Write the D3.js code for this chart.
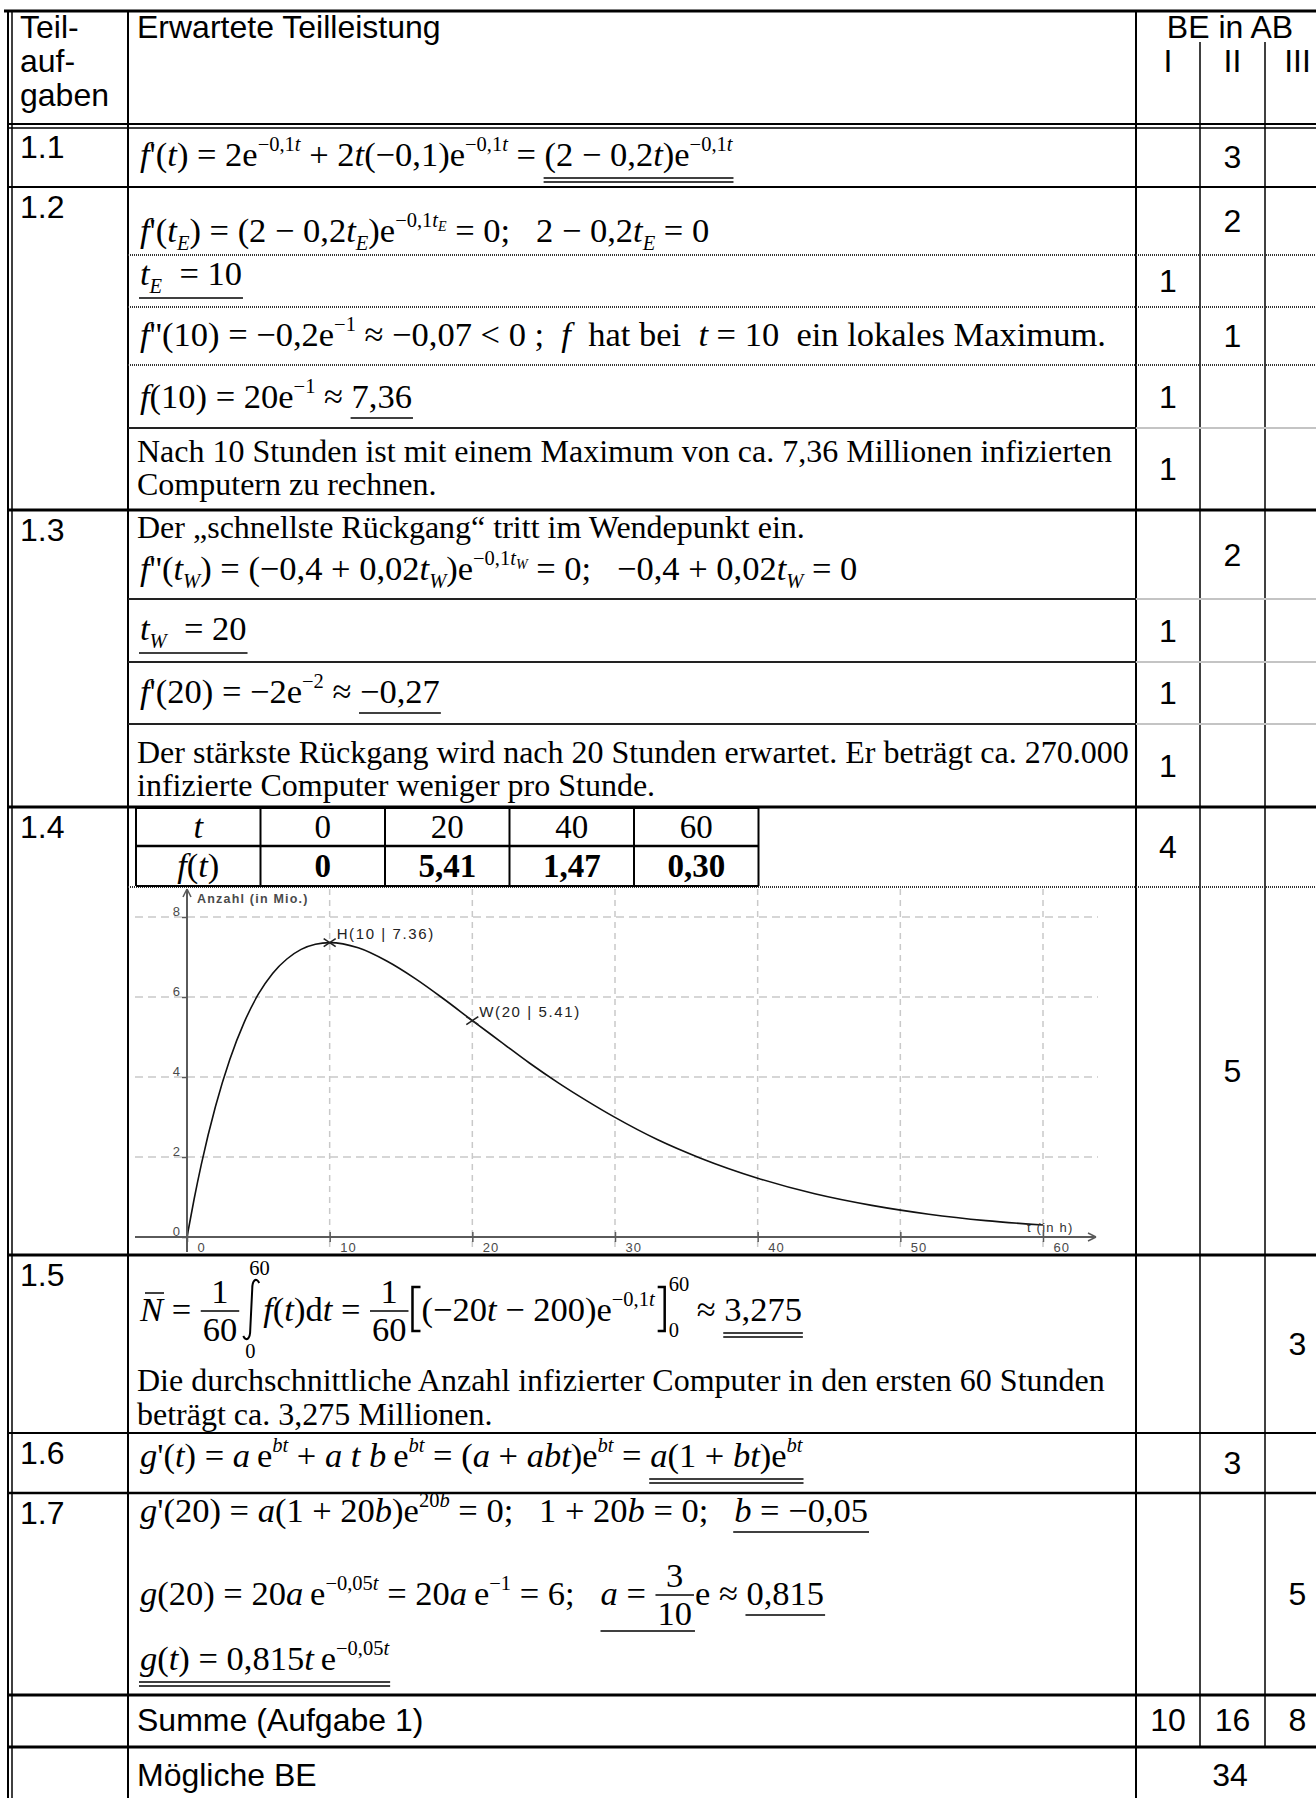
<!DOCTYPE html>
<html>
<head>
<meta charset="utf-8">
<script src="https://cdn.jsdelivr.net/npm/d3@7"></script>
<style>
  body { margin: 0; background: #fff; }
  svg { display: block; }
  text { white-space: pre; }
</style>
</head>
<body>
<script>
// chart values: f(t) in millions over t in hours
var curveT = [0, 0.5, 1, 2, 3, 4, 5, 6, 7, 8, 9, 10, 12, 14, 16, 18, 20, 22, 24, 26, 28, 30, 33, 36, 40, 44, 48, 52, 56, 60];
var curveF = [0, 0.95, 1.81, 3.27, 4.44, 5.36, 6.07, 6.59, 6.95, 7.19, 7.32, 7.36, 7.23, 6.90, 6.46, 5.95, 5.41, 4.88, 4.35, 3.86, 3.41, 2.99, 2.43, 1.97, 1.47, 1.08, 0.79, 0.57, 0.41, 0.30];
var markNames = ["H", "W"];
var markT = [10, 20];
var markF = [7.36, 5.41];
var xTicks = [0, 10, 20, 30, 40, 50, 60];
var yTicks = [0, 2, 4, 6, 8];

// value table of 1.4
var tabT = ["0", "20", "40", "60"];
var tabF = ["0", "5,41", "1,47", "0,30"];

// points (BE) per sub-row and their level (0 = I, 1 = II, 2 = III)
var bePoints = [3, 2, 1, 1, 1, 1, 2, 1, 1, 1, 4, 5, 3, 3, 5];
var beLevel = [1, 1, 0, 1, 0, 0, 1, 0, 0, 0, 0, 1, 2, 1, 2];
var taskLabels = ["1.1", "1.2", "1.3", "1.4", "1.5", "1.6", "1.7"];
var sumPoints = [10, 16, 8];
var maxPoints = 34;

var W = 1316, H = 1798;
var SANS = "'Liberation Sans', Arial, sans-serif";
var SERIF = "'Liberation Serif', 'Times New Roman', serif";
var FS = 32;            // body text
var FM = 34.5, SS = 20.5; // formulas

var svg = d3.select("body").append("svg")
    .attr("width", W)
    .attr("height", H);

// columns
var XL = 8, C1 = 128, CI = 1136, CII = 1200, CIII = 1265, XR = 1330;
var colMid = [(CI + CII) / 2, (CII + CIII) / 2, (CIII + XR) / 2];
// sub-row boundaries
var rowsY = [127, 187, 255, 307, 365, 428, 510, 599, 662, 724, 807, 887, 1255, 1433, 1493, 1695, 1747];
var taskRow = [0, 1, 6, 10, 12, 13, 14];

function line(x1, y1, x2, y2, w, col, dash) {
    return svg.append("line")
        .attr("x1", x1).attr("y1", y1).attr("x2", x2).attr("y2", y2)
        .attr("stroke", col || "#000").attr("stroke-width", w || 1)
        .attr("stroke-dasharray", dash || null);
}

function T(x, y, s, o) {
    o = o || {};
    return svg.append("text")
        .attr("x", x).attr("y", y)
        .attr("font-family", o.serif ? SERIF : SANS)
        .attr("font-size", o.size || FS)
        .attr("font-weight", o.bold ? "bold" : null)
        .attr("font-style", o.it ? "italic" : null)
        .attr("text-anchor", o.anchor || "start")
        .attr("fill", o.fill || "#000")
        .attr("letter-spacing", o.ls || null)
        .text(s);
}

// tiny formula markup: {i:..} italic, {u:..} underline, {uu:..} double underline, ^{..} sup, _{..} sub
function parseMath(s) {
    var toks = [], buf = "";
    var stack = [{ it: false, off: 0, size: FM, ul: null }];
    var top = function () { return stack[stack.length - 1]; };
    var flush = function () {
        if (buf) {
            var t = top();
            toks.push({ text: buf, it: t.it, off: t.off, size: t.size, ul: t.ul });
            buf = "";
        }
    };
    for (var i = 0; i < s.length; i++) {
        var c = s[i];
        if ((c === "^" || c === "_") && s[i + 1] === "{") {
            flush();
            var t = top(), big = t.size === FM;
            var n = Object.assign({}, t);
            n.size = big ? SS : 14;
            n.off = t.off + (c === "^" ? (big ? -15 : -8) : (big ? 7.5 : 4));
            stack.push(n);
            i++;
            continue;
        }
        if (c === "{") {
            var m = /^(i|uu|u):/.exec(s.slice(i + 1));
            if (m) {
                flush();
                var n2 = Object.assign({}, top());
                if (m[1] === "i") n2.it = true;
                else n2.ul = { n: m[1] === "u" ? 1 : 2 };
                stack.push(n2);
                i += m[0].length;
                continue;
            }
        }
        if (c === "}") { flush(); stack.pop(); continue; }
        buf += c;
    }
    flush();
    return toks;
}

function math(x, y, src, anchor) {
    var toks = parseMath(src);
    var text = svg.append("text")
        .attr("x", x).attr("y", y)
        .attr("font-family", SERIF).attr("font-size", FM)
        .attr("text-anchor", anchor || "start")
        .style("white-space", "pre");
    var cur = 0;
    var spans = toks.map(function (t) {
        var sp = text.append("tspan")
            .attr("font-size", t.size)
            .attr("font-style", t.it ? "italic" : null)
            .attr("dy", t.off - cur)
            .text(t.text);
        cur = t.off;
        return [sp.node(), t];
    });
    var ul = new Map();
    spans.forEach(function (p) {
        var node = p[0], t = p[1];
        if (!t.ul) return;
        var n = node.getNumberOfChars();
        if (!n) return;
        var a = node.getStartPositionOfChar(0).x, b = node.getEndPositionOfChar(n - 1).x;
        var r = ul.get(t.ul) || { x0: 1e9, x1: -1e9, sub: false };
        r.x0 = Math.min(r.x0, a);
        r.x1 = Math.max(r.x1, b);
        if (t.off > 0) r.sub = true;
        ul.set(t.ul, r);
    });
    ul.forEach(function (r, k) {
        var base = y + (k.n === 2 ? 12 : (r.sub ? 13 : 10));
        for (var i = 0; i < k.n; i++) line(r.x0 - 1, base + i * 4, r.x1 + 1, base + i * 4, 1.5);
    });
    return x + text.node().getComputedTextLength();
}

function frac(x, B, num, den) {
    var a = T(0, B - 18, num, { serif: true, anchor: "middle", size: FM });
    var b = T(0, B + 20, den, { serif: true, anchor: "middle", size: FM });
    var w = Math.max(a.node().getComputedTextLength(), b.node().getComputedTextLength()) + 4;
    var cx = x + 1 + w / 2;
    a.attr("x", cx);
    b.attr("x", cx);
    line(x + 1, B - 10, x + 1 + w, B - 10, 1.5);
    return x + w + 3;
}

// ---------- table frame ----------
line(4, 11, W, 11, 3);
line(XL, 10, XL, H, 2);
line(XL + 4, 10, XL + 4, H, 1.5);
line(C1, 10, C1, H, 2);
line(CI, 10, CI, H, 2);
line(CII, 42, CII, rowsY[16], 1.5);
line(CIII, 42, CIII, rowsY[16], 1.5);
line(XL, 124, W, 124, 2);
line(XL, 128, W, 128, 1.5);

var fullLines = { 187: 2, 510: 3, 807: 3, 1255: 3, 1433: 2, 1493: 2.5, 1695: 3, 1747: 3 };
[255, 307, 365, 887].forEach(function (yy) { line(C1, yy, W, yy, 2, "#333", "1,1"); });
[428, 599, 662, 724].forEach(function (yy) {
    line(C1, yy, CI, yy, 2, "#222");
    line(CI, yy, W, yy, 2, "#c4c4c4");
});
Object.keys(fullLines).forEach(function (k) { line(XL, +k, W, +k, fullLines[k]); });

// ---------- header ----------
T(20, 38, "Teil-");
T(20, 72, "auf-");
T(20, 106, "gaben");
T(137, 38, "Erwartete Teilleistung");
T((CI + XR) / 2 - 3, 38, "BE in AB", { anchor: "middle" });
["I", "II", "III"].forEach(function (s, i) { T(colMid[i], 72, s, { anchor: "middle" }); });

// task labels
taskLabels.forEach(function (s, i) { T(20, rowsY[taskRow[i]] + 31, s); });

// points per sub-row
bePoints.forEach(function (v, i) {
    var yy = (rowsY[i] + rowsY[i + 1]) / 2 + 11;
    T(colMid[beLevel[i]], yy, String(v), { anchor: "middle" });
});
sumPoints.forEach(function (v, i) { T(colMid[i], 1731, String(v), { anchor: "middle" }); });
T((CI + XR) / 2 - 3, 1786, String(maxPoints), { anchor: "middle" });
T(137, 1731, "Summe (Aufgabe 1)");
T(137, 1786, "Mögliche BE");

// ---------- 1.1 / 1.2 ----------
var X = 140;
math(X, 166, "{i:f}'({i:t}) = 2e^{−0,1{i:t}} + 2{i:t}(−0,1)e^{−0,1{i:t}} = {uu:(2 − 0,2{i:t})e^{−0,1{i:t}}}");
math(X, 242, "{i:f}'({i:t}_{{i:E}}) = (2 − 0,2{i:t}_{{i:E}})e^{−0,1{i:t}_{{i:E}}} = 0;   2 − 0,2{i:t}_{{i:E}} = 0");
math(X, 285, "{u:{i:t}_{{i:E}}  = 10}");
math(X, 346, "{i:f}''(10) = −0,2e^{−1} ≈ −0,07 < 0 ;  {i:f}  hat bei  {i:t} = 10  ein lokales Maximum.");
math(X, 408, "{i:f}(10) = 20e^{−1} ≈ {u:7,36}");
T(137, 462, "Nach 10 Stunden ist mit einem Maximum von ca. 7,36 Millionen infizierten", { serif: true });
T(137, 495, "Computern zu rechnen.", { serif: true });

// ---------- 1.3 ----------
T(137, 538, "Der „schnellste Rückgang“ tritt im Wendepunkt ein.", { serif: true });
math(X, 580, "{i:f}''({i:t}_{{i:W}}) = (−0,4 + 0,02{i:t}_{{i:W}})e^{−0,1{i:t}_{{i:W}}} = 0;   −0,4 + 0,02{i:t}_{{i:W}} = 0");
math(X, 640, "{u:{i:t}_{{i:W}}  = 20}");
math(X, 703, "{i:f}'(20) = −2e^{−2} ≈ {u:−0,27}");
T(137, 763, "Der stärkste Rückgang wird nach 20 Stunden erwartet. Er beträgt ca. 270.000", { serif: true });
T(137, 796, "infizierte Computer weniger pro Stunde.", { serif: true });

// ---------- 1.4 value table ----------
var tx = [136, 260.5, 385, 509.5, 634, 758.5], ty = [808, 846, 886];
tx.forEach(function (xx) { line(xx, ty[0], xx, ty[2], 2); });
line(tx[0], ty[0], tx[5], ty[0], 2);
line(tx[0], ty[1], tx[5], ty[1], 2.5);
line(tx[0], ty[2], tx[5], ty[2], 2);
math((tx[0] + tx[1]) / 2, 838, "{i:t}", "middle");
math((tx[0] + tx[1]) / 2, 877, "{i:f}({i:t})", "middle");
tabT.forEach(function (s, i) { T((tx[i + 1] + tx[i + 2]) / 2, 838, s, { serif: true, anchor: "middle", size: 33 }); });
tabF.forEach(function (s, i) { T((tx[i + 1] + tx[i + 2]) / 2, 877, s, { serif: true, bold: true, anchor: "middle", size: 33 }); });

// ---------- 1.4 graph ----------
var x = d3.scaleLinear().domain([0, 60]).range([187, 1043]);
var y = d3.scaleLinear().domain([0, 8]).range([1237, 917]);
var GRID = "#c9c9c9", AX = "#5a5a5a", LAB = "#4a4a4a";
var chart = svg.append("g");

chart.selectAll(".hgrid")
    .data(yTicks.slice(1))
    .enter().append("line")
    .attr("x1", 135).attr("x2", 1098)
    .attr("y1", function (d) { return y(d); })
    .attr("y2", function (d) { return y(d); })
    .attr("stroke", GRID).attr("stroke-width", 1.5).attr("stroke-dasharray", "8,5");
chart.selectAll(".vgrid")
    .data(xTicks.slice(1))
    .enter().append("line")
    .attr("x1", function (d) { return x(d); })
    .attr("x2", function (d) { return x(d); })
    .attr("y1", 889).attr("y2", 1252)
    .attr("stroke", GRID).attr("stroke-width", 1.5).attr("stroke-dasharray", "6,5");

// x axis
var xa = chart.append("g")
    .attr("transform", "translate(0," + y(0) + ")")
    .call(d3.axisBottom(x).tickValues(xTicks).tickSize(5).tickFormat(d3.format("d")));
xa.select(".domain").remove();
xa.selectAll(".tick line").attr("y1", -5).attr("stroke", AX).attr("stroke-width", 1.5);
xa.selectAll(".tick text")
    .attr("x", 10).attr("y", 15).attr("dy", 0)
    .attr("text-anchor", "start")
    .attr("font-family", SANS).attr("font-size", 13).attr("letter-spacing", 1)
    .attr("fill", LAB);
line(135, y(0), 1096, y(0), 2, AX);
line(1096, y(0), 1088, y(0) - 4, 1.5, AX);
line(1096, y(0), 1088, y(0) + 4, 1.5, AX);

// y axis
var ya = chart.append("g")
    .attr("transform", "translate(" + x(0) + ",0)")
    .call(d3.axisLeft(y).tickValues(yTicks).tickSize(5).tickFormat(d3.format("d")));
ya.select(".domain").remove();
ya.selectAll(".tick line").attr("stroke", AX).attr("stroke-width", 1.5);
ya.selectAll(".tick text")
    .attr("x", -7).attr("y", -2).attr("dy", 0)
    .attr("font-family", SANS).attr("font-size", 13)
    .attr("fill", LAB);
line(x(0), 1252, x(0), 889, 2, AX);
line(x(0), 889, x(0) - 4, 897, 1.5, AX);
line(x(0), 889, x(0) + 4, 897, 1.5, AX);

T(197, 903, "Anzahl (in Mio.)", { size: 12.5, bold: true, fill: LAB, ls: 1.2 });
T(1027, 1232, "t (in h)", { size: 13, fill: "#333", ls: 1.2 });

// curve
var pts = curveT.map(function (t, i) { return [t, curveF[i]]; });
chart.append("path")
    .datum(pts)
    .attr("fill", "none")
    .attr("stroke", "#111")
    .attr("stroke-width", 1.6)
    .attr("d", d3.line()
        .x(function (d) { return x(d[0]); })
        .y(function (d) { return y(d[1]); })
        .curve(d3.curveMonotoneX));

// marked points
markT.forEach(function (t, i) {
    var px = x(t), py = y(markF[i]);
    line(px - 6, py - 4, px + 6, py + 4, 1.6, "#222");
    line(px - 6, py + 4, px + 6, py - 4, 1.6, "#222");
    var lab = markNames[i] + "(" + t + " | " + markF[i].toFixed(2) + ")";
    T(px + 7, py - 4, lab, { size: 15, fill: "#222", ls: 1.6 });
});

// ---------- 1.5 ----------
(function () {
    var B = 1321, xx = X;
    var x1 = math(xx, B, "{i:N}");
    line(xx + 5, B - 28, x1 + 1, B - 28, 1.5);
    xx = math(x1, B, " = ");
    xx = frac(xx, B, "1", "60");
    xx += 2;
    // integral sign with limits
    svg.append("path")
        .attr("d", "M" + (xx + 16) + "," + (B - 38) + " C" + (xx + 13) + "," + (B - 44) + " " + (xx + 9) + "," + (B - 41) + " " + (xx + 9) + "," + (B - 32) +
            " L" + (xx + 7) + "," + (B + 9) + " C" + (xx + 7) + "," + (B + 18) + " " + (xx + 3) + "," + (B + 21) + " " + xx + "," + (B + 15))
        .attr("fill", "none").attr("stroke", "#000").attr("stroke-width", 2);
    T(xx + 6, B - 46, "60", { serif: true, size: SS });
    T(xx + 2, B + 37, "0", { serif: true, size: SS });
    xx = math(xx + 20, B, "{i:f}({i:t})d{i:t} = ");
    xx = frac(xx, B, "1", "60");
    svg.append("path")
        .attr("d", "M" + (xx + 10) + "," + (B - 34) + " H" + (xx + 2) + " V" + (B + 10) + " H" + (xx + 10))
        .attr("fill", "none").attr("stroke", "#000").attr("stroke-width", 2.5);
    xx = math(xx + 11, B, "(−20{i:t} − 200)e^{−0,1{i:t}}");
    svg.append("path")
        .attr("d", "M" + (xx + 3) + "," + (B - 34) + " H" + (xx + 10) + " V" + (B + 10) + " H" + (xx + 3))
        .attr("fill", "none").attr("stroke", "#000").attr("stroke-width", 2.5);
    T(xx + 14, B - 30, "60", { serif: true, size: SS });
    T(xx + 14, B + 16, "0", { serif: true, size: SS });
    math(xx + 42, B, "≈ {uu:3,275}");
})();
T(137, 1391, "Die durchschnittliche Anzahl infizierter Computer in den ersten 60 Stunden", { serif: true });
T(137, 1425, "beträgt ca. 3,275 Millionen.", { serif: true });

// ---------- 1.6 / 1.7 ----------
math(X, 1467, "{i:g}'({i:t}) = {i:a}\u2009e^{{i:bt}} + {i:a t b}\u2009e^{{i:bt}} = ({i:a} + {i:abt})e^{{i:bt}} = {uu:{i:a}(1 + {i:bt})e^{{i:bt}}}");
math(X, 1522, "{i:g}'(20) = {i:a}(1 + 20{i:b})e^{20{i:b}} = 0;   1 + 20{i:b} = 0;   {u:{i:b} = −0,05}");
(function () {
    var B = 1605;
    var xx = math(X, B, "{i:g}(20) = 20{i:a}\u2009e^{−0,05{i:t}} = 20{i:a}\u2009e^{−1} = 6;   ");
    var ax = xx;
    xx = math(xx, B, "{i:a} = ");
    xx = frac(xx, B, "3", "10");
    line(ax, B + 26, xx - 1, B + 26, 1.5);
    math(xx - 1, B, "e ≈ {u:0,815}");
})();
math(X, 1670, "{uu:{i:g}({i:t}) = 0,815{i:t}\u2009e^{−0,05{i:t}}}");
</script>
</body>
</html>
